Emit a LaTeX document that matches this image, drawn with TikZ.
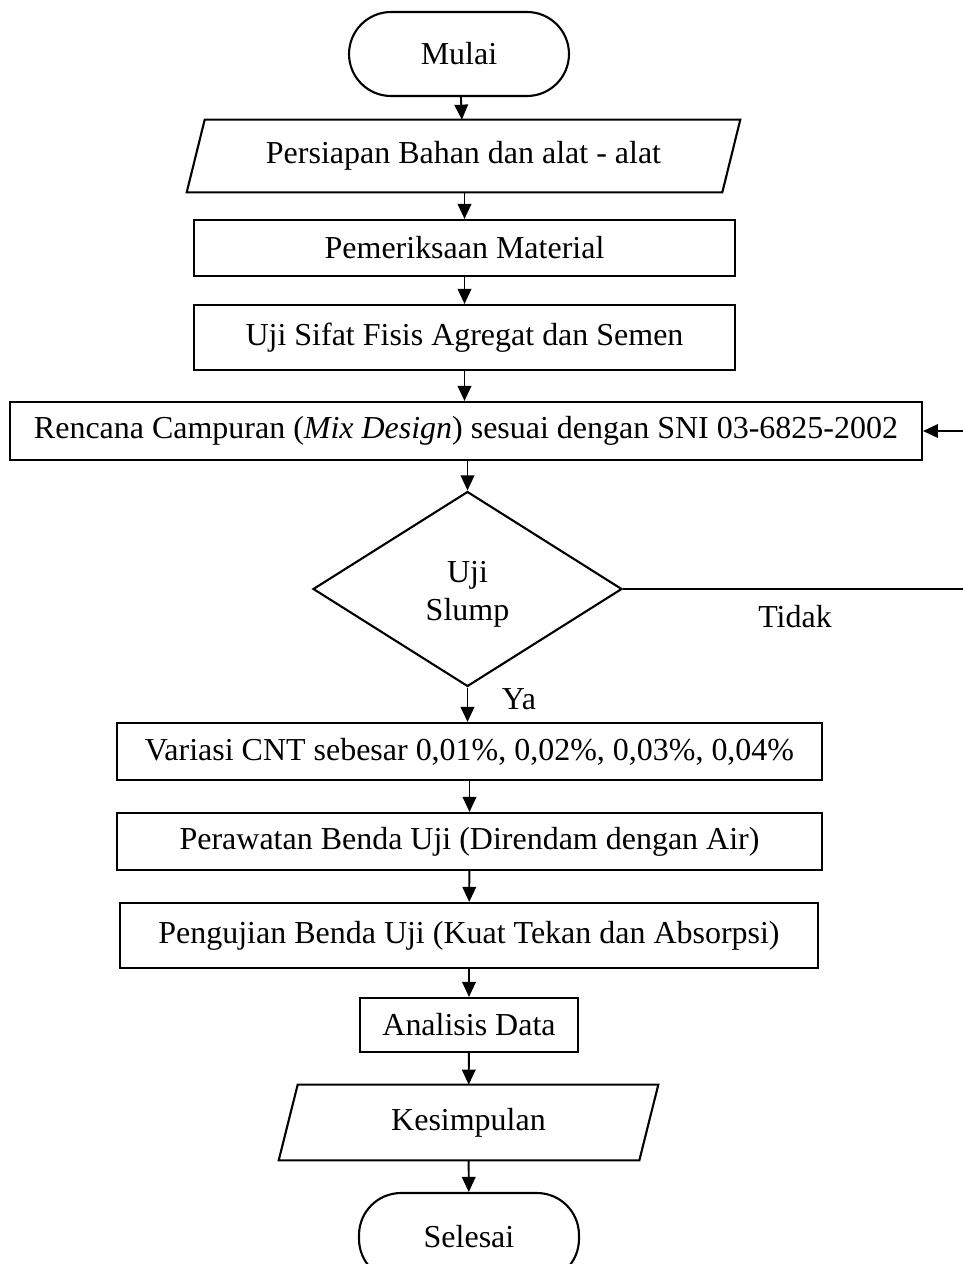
\documentclass[tikz,border=0pt]{standalone}
\usepackage{fontspec}
\setmainfont{Liberation Serif}
\usetikzlibrary{shapes.geometric,arrows.meta}
\begin{document}
\begin{tikzpicture}[x=0.02cm,y=-0.02cm,
  every node/.style={font=\fontsize{18.2}{20.5}\selectfont,inner sep=0pt},
  box/.style={draw,line width=1.2pt,rectangle},
  term/.style={draw,line width=1.2pt,rectangle,rounded corners=0.84cm},
  ghost/.style={rectangle},
  dec/.style={draw,line width=1.2pt,diamond,align=center},
  arr/.style={line width=1.1pt,-{Triangle[length=0.3cm,width=0.27cm]}},
  ln/.style={line width=1.2pt}]
\useasboundingbox (0,0) rectangle (963,1264);
\node[term,minimum width=4.4cm,minimum height=1.68cm] (mulai) at (459,54) {Mulai};
\node[ghost,minimum width=10.7cm,minimum height=1.44cm] (p1) at (463.5,156) {Persiapan Bahan dan alat - alat};
\draw[ln] ([xshift=-0.18cm]p1.south west) -- ([xshift=0.18cm]p1.north west) -- ([xshift=0.18cm]p1.north east) -- ([xshift=-0.18cm]p1.south east) -- cycle;
\node[box,minimum width=10.82cm,minimum height=1.12cm] (b1) at (464.5,248) {Pemeriksaan Material};
\node[box,minimum width=10.82cm,minimum height=1.3cm] (b2) at (464.5,337.5) {Uji Sifat Fisis Agregat dan Semen};
\node[box,minimum width=18.24cm,minimum height=1.16cm] (b3) at (466,431) {Rencana Campuran (\textit{Mix Design}) sesuai dengan SNI 03-6825-2002};
\node[dec,minimum width=6.18cm,minimum height=3.9cm] (d) at (467.5,589) {\raisebox{-0.1cm}[\height][\depth]{\begin{tabular}{@{}c@{}}Uji\\[1pt]Slump\end{tabular}}};
\node[box,minimum width=14.12cm,minimum height=1.14cm] (b4) at (469.5,751.5) {Variasi CNT sebesar 0,01\%, 0,02\%, 0,03\%, 0,04\%};
\node[box,minimum width=14.12cm,minimum height=1.14cm] (b5) at (469.5,841.5) {Perawatan Benda Uji (Direndam dengan Air)};
\node[box,minimum width=13.96cm,minimum height=1.3cm] (b6) at (469,935.5) {Pengujian Benda Uji (Kuat Tekan dan Absorpsi)};
\node[box,minimum width=4.36cm,minimum height=1.08cm] (b7) at (469,1025) {Analisis Data};
\node[ghost,minimum width=7.2cm,minimum height=1.5cm] (p2) at (468.5,1122.5) {Kesimpulan};
\draw[ln] ([xshift=-0.19cm]p2.south west) -- ([xshift=0.19cm]p2.north west) -- ([xshift=0.19cm]p2.north east) -- ([xshift=-0.19cm]p2.south east) -- cycle;
\node[term,minimum width=4.4cm,minimum height=1.76cm] (selesai) at (469,1237) {Selesai};
\node (tidak) at (795,617) {Tidak};
\node (ya) at (519,699) {Ya};
\coordinate (r1) at (964,589);
\coordinate (r2) at (964,431);
\draw[arr] (mulai) -- (p1);
\draw[arr] (p1.south -| b1) -- (b1);
\draw[arr] (b1) -- (b2);
\draw[arr] (b2.south) -- (b2.south |- b3.north);
\draw[arr] (b3.south -| d.north) -- (d.north);
\draw[arr] (d.south) -- (d.south |- b4.north);
\draw[arr] (b4) -- (b5);
\draw[arr] (b5) -- (b6);
\draw[arr] (b6) -- (b7);
\draw[arr] (b7) -- (p2);
\draw[arr] (p2) -- (selesai);
\draw[arr] (d.east) -- (d.east -| r1) -- (r2) -- (b3.east);
\end{tikzpicture}
\end{document}
